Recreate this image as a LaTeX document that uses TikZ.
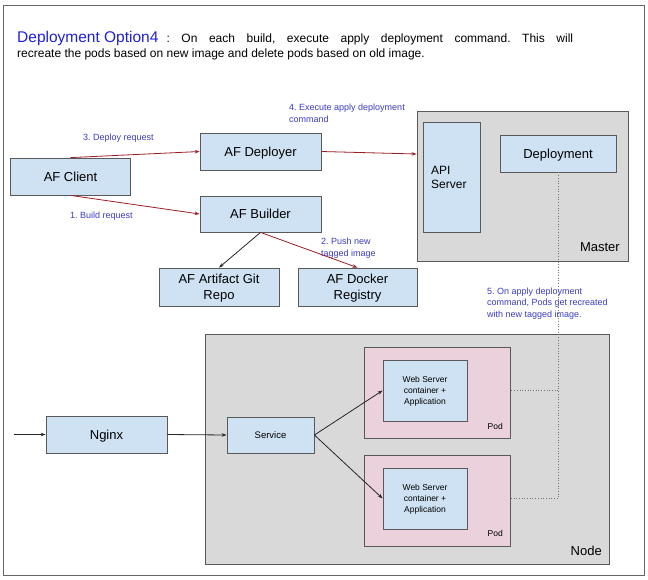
\documentclass[tikz,border=0pt]{standalone}
\usepackage{fontspec}
\setmainfont{Liberation Sans}
\usetikzlibrary{arrows.meta,calc}
\definecolor{boxblue}{HTML}{CFE2F3}
\definecolor{podpink}{HTML}{EAD1DC}
\definecolor{areagray}{HTML}{D9D9D9}
\definecolor{edge}{HTML}{595959}
\definecolor{lblblue}{HTML}{3C3CC8}
\definecolor{titleblue}{HTML}{2020D8}
\definecolor{darkred}{HTML}{9A1F24}
\tikzset{
  box/.style={draw=edge, line width=0.8pt, fill=boxblue, inner sep=1pt, align=center, text depth=0pt},
  area/.style={draw=edge, line width=0.9pt, fill=areagray},
  podbox/.style={draw=edge, line width=0.8pt, fill=podpink},
  lbl/.style={text=lblblue, font=\fontsize{9}{11.5}\selectfont, align=left, inner sep=0pt},
  redarrow/.style={draw=darkred, line width=0.8pt, -{Stealth[length=5pt,width=3.5pt]}},
  blkarrow/.style={draw=black!85, line width=0.8pt, -{Stealth[length=5pt,width=3.5pt]}},
  dotline/.style={draw=black!55, line width=0.7pt, dotted},
  big/.style={font=\fontsize{13}{16.5}\selectfont}
}
\frenchspacing
\begin{document}
\begin{tikzpicture}[x=1pt,y=-1pt]
\useasboundingbox (0,0) rectangle (648,579);
\fill[white] (0,0) rectangle (648,579);
\draw[draw=black!60, line width=1pt] (3,5) rectangle (644,575);

% title
\node[anchor=base west, inner sep=0pt] (title1) at (17,42)
  {\makebox[556pt][s]{\mbox{\fontsize{15.5}{18}\selectfont\color{titleblue}Deployment Option4}\hspace{8pt}\fontsize{12}{14}\selectfont : On each build, execute apply deployment command. This will}};
\node[anchor=base west, inner sep=0pt, font=\fontsize{12}{14}\selectfont] (title2) at (17,57)
  {recreate the pods based on new image and delete pods based on old image.};

% top part
\node[box, big, minimum width=120pt, minimum height=37pt] (client) at (70.5,176.5) {AF Client};
\node[box, big, minimum width=121pt, minimum height=37pt] (deployer) at (260.5,151.5) {AF Deployer};
\node[box, big, minimum width=121pt, minimum height=36pt] (builder) at (260.5,214) {AF Builder};
\node[box, big, minimum width=120pt, minimum height=38pt] (artifact) at (219,287) {AF Artifact Git\\Repo};
\node[box, big, minimum width=119pt, minimum height=38pt] (docker) at (357.5,287) {AF Docker\\Registry};

% master
\node[area, minimum width=211pt, minimum height=150pt] (master) at (522.5,186) {};
\node[big, anchor=base east, inner sep=0pt] (masterlbl) at (620,251) {Master};
\node[box, minimum width=57pt, minimum height=110pt] (api) at (451.5,177) {};
\node[anchor=west, align=left, inner sep=0pt, font=\fontsize{12}{14}\selectfont] (apitxt) at (431,177) {API\\Server};
\node[box, big, minimum width=116pt, minimum height=37pt] (deploy) at (558,153.5) {Deployment};

% node area
\node[area, minimum width=404pt, minimum height=230pt] (nodearea) at (407,449) {};
\node[big, anchor=base east, inner sep=0pt] (nodelbl) at (602,555) {Node};
\node[podbox, minimum width=146pt, minimum height=91pt] (pod1) at (437,392.5) {};
\node[podbox, minimum width=146pt, minimum height=91pt] (pod2) at (437,500.5) {};
\node[anchor=base east, inner sep=0pt, font=\fontsize{8.5}{10}\selectfont] (pod1lbl) at (503,429) {Pod};
\node[anchor=base east, inner sep=0pt, font=\fontsize{8.5}{10}\selectfont] (pod2lbl) at (503,536) {Pod};
\node[box, minimum width=84pt, minimum height=61pt, font=\fontsize{8.5}{11}\selectfont] (c1) at (425,390.5) {Web Server\\container +\\Application};
\node[box, minimum width=84pt, minimum height=61pt, font=\fontsize{8.5}{11}\selectfont] (c2) at (425,498.5) {Web Server\\container +\\Application};
\node[box, minimum width=87pt, minimum height=36pt, font=\fontsize{9.5}{11}\selectfont] (svc) at (270.5,435) {Service};
\node[box, big, minimum width=121pt, minimum height=37pt] (nginx) at (106.5,434.5) {Nginx};
\coordinate (entry) at (14,434.5);

% labels
\node[lbl, anchor=west] (l4) at (289,113.5) {4. Execute apply deployment\\command};
\node[lbl, anchor=west] (l3) at (83,138) {3. Deploy request};
\node[lbl, anchor=west] (l1) at (70,216) {1. Build request};
\node[lbl, anchor=west] (l2) at (321,248) {2. Push new\\tagged image};
\node[lbl, anchor=west] (l5) at (487,303.5) {5. On apply deployment\\command, Pods get recreated\\with new tagged image.};

% connectors
\coordinate (mIn) at (master.west |- 0,154);
\draw[redarrow] (client.north) -- (deployer.west);
\draw[redarrow] (client.south) -- (deployer.west |- builder.west);
\draw[redarrow] (deployer.east) -- (mIn);
\draw[blkarrow] (builder.south) -- (artifact.north);
\draw[redarrow] (builder.south) -- (docker.north);

\coordinate (j1) at (deploy.south |- c1.east);
\coordinate (j2) at (deploy.south |- c2.east);
\draw[dotline] (deploy.south) -- (j2) -- (pod2.east |- c2.east);
\draw[dotline] (j1) -- (pod1.east |- c1.east);

\draw[blkarrow] (entry) -- (nginx.west);
\draw[blkarrow] (nginx.east) -- (svc.west);
\draw[blkarrow] (svc.east) -- (c1.west);
\draw[blkarrow] (svc.east) -- (c2.west);
\end{tikzpicture}
\end{document}
